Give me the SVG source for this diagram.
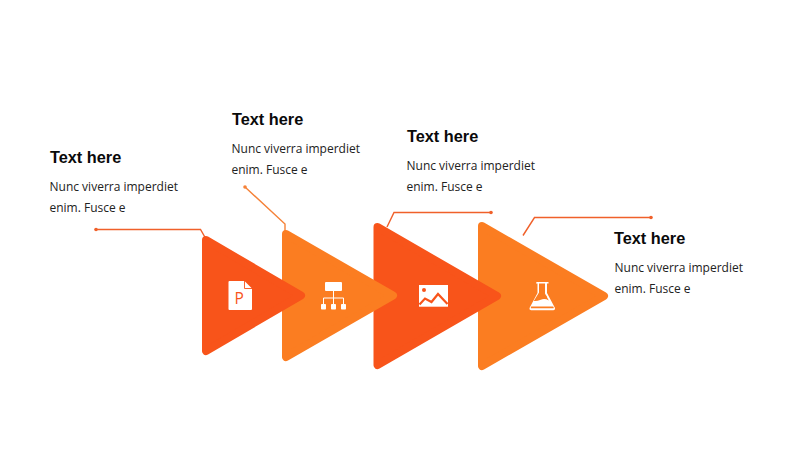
<svg xmlns="http://www.w3.org/2000/svg" width="800" height="450" viewBox="0 0 800 450">
<style>
.bg{fill:#fff}
.red{fill:#F8541A;stroke:#F8541A}
.org{fill:#FB7D21;stroke:#FB7D21}
.tri{stroke-width:8;stroke-linejoin:round}
.ln{fill:none;stroke-width:1.4}
.lr{stroke:#F0602A}
.lo{stroke:#F58238}
.title{font-family:"Liberation Sans",Arial,sans-serif;font-weight:700;font-size:16.300px;fill:#0a0a0a}
.body{font-family:"Open Sans","Noto Sans",sans-serif;font-size:12.800px;fill:#222}
.ic{fill:#fff}
</style>
<rect class="bg" width="800" height="450"/>
<g id="connectors">
<path class="ln lr" d="M96 229.500H200.500L206 239"/>
<circle cx="96" cy="229.500" r="1.800" fill="#F0602A"/>
<path class="ln lo" d="M245 187L285 224V232"/>
<circle cx="245" cy="187" r="1.800" fill="#F58238"/>
<path class="ln lr" d="M387 227L394 212.500H491"/>
<circle cx="491" cy="212.500" r="1.800" fill="#F0602A"/>
<path class="ln lr" d="M523 235.500L534.500 217.500H651"/>
<circle cx="651" cy="217.500" r="1.800" fill="#F0602A"/>
</g>
<g id="node-4">
<polygon class="org tri" points="482,226 604,296 482,366"/>
<path fill="#fff" d="M536.500 282h12v1.500h-1.500v9.500l8 15q.5 2-1.500 2.200h-22.500q-2-.2-1.500-2.200l8-15v-9.500h-1.500z"/>
<path fill="#FB7D21" d="M539 283.500h6v10l3.800 7q-4 -2.500-8 -.8q-4 1.700-7 1.300l5.200-8.500zM530.800 307.500l.4-1h22l.6 1.200-.2.500h-22.600z"/>
<circle cx="545" cy="297" r="1.800" fill="#FB7D21"/>
<text class="title" x="614" y="244">Text here</text>
<text class="body" x="614.500" y="272" textLength="128.500" lengthAdjust="spacingAndGlyphs">Nunc viverra imperdiet</text>
<text class="body" x="614.500" y="293" textLength="76" lengthAdjust="spacingAndGlyphs">enim. Fusce e</text>
</g>
<g id="node-3">
<polygon class="red tri" points="377.500,227 497,296 377.500,365"/>
<rect class="ic" x="419" y="285" width="29" height="21.700"/>
<circle cx="424" cy="290" r="2" fill="#F8541A"/>
<path fill="none" stroke="#F8541A" stroke-width="2.200" d="M419.500 304.500L425 298.500L431.500 302L438 294L447.500 304"/>
<text class="title" x="407" y="142">Text here</text>
<text class="body" x="406.500" y="170" textLength="128.500" lengthAdjust="spacingAndGlyphs">Nunc viverra imperdiet</text>
<text class="body" x="406.500" y="191" textLength="76" lengthAdjust="spacingAndGlyphs">enim. Fusce e</text>
</g>
<g id="node-2">
<polygon class="org tri" points="286,234 393,295.500 286,357"/>
<rect class="ic" x="325" y="282" width="17" height="9" rx="1"/>
<path fill="none" stroke="#fff" stroke-width="1" d="M333.500 291V305M323.500 305V298H343.500V305"/>
<rect class="ic" x="321" y="304" width="5" height="5.500" rx=".8"/>
<rect class="ic" x="331" y="304" width="5" height="5.500" rx=".8"/>
<rect class="ic" x="341" y="304" width="5" height="5.500" rx=".8"/>
<text class="title" x="232" y="125">Text here</text>
<text class="body" x="231.500" y="153" textLength="128.500" lengthAdjust="spacingAndGlyphs">Nunc viverra imperdiet</text>
<text class="body" x="231.500" y="174" textLength="76" lengthAdjust="spacingAndGlyphs">enim. Fusce e</text>
</g>
<g id="node-1">
<polygon class="red tri" points="206,240 301,295.500 206,351"/>
<path class="ic" d="M229.500 281H244.500L252 288.500V309a1 1 0 0 1-1 1H229.500a1 1 0 0 1-1-1V282a1 1 0 0 1 1-1z"/>
<path fill="none" stroke="#F8541A" stroke-width=".9" d="M244.500 281V288.500H252"/>
<text x="234.500" y="303.500" font-family="'Open Sans',sans-serif" font-size="15.500" fill="#F8541A">P</text>
<text class="title" x="50" y="163">Text here</text>
<text class="body" x="49.500" y="191" textLength="128.500" lengthAdjust="spacingAndGlyphs">Nunc viverra imperdiet</text>
<text class="body" x="49.500" y="212" textLength="76" lengthAdjust="spacingAndGlyphs">enim. Fusce e</text>
</g>
</svg>
